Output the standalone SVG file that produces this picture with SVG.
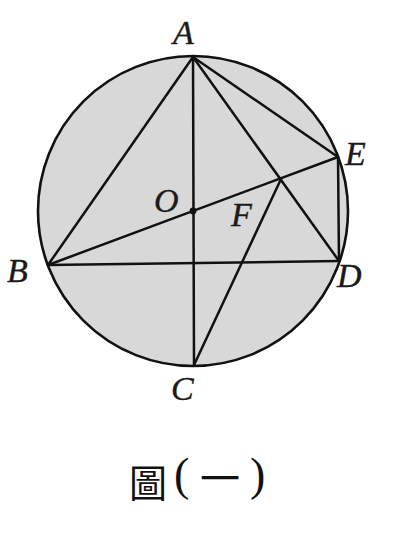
<svg xmlns="http://www.w3.org/2000/svg" width="410" height="549" viewBox="0 0 410 549">
<style>
.ln{stroke:#111;stroke-width:2.5;fill:none;stroke-linecap:round}
.lb{font-family:"Liberation Serif","DejaVu Serif",serif;font-style:italic;font-size:34px;fill:#1a1a1a;stroke:#1a1a1a;stroke-width:0.4}
.cj{font-family:"Noto Sans CJK TC","Noto Sans CJK SC",sans-serif;fill:#111}
.pr{font-family:"Liberation Serif","DejaVu Serif",serif;font-size:46px;fill:#111}
</style>
<rect width="410" height="549" fill="#fff"/>
<g id="circle"><circle cx="193" cy="211" r="155" fill="#d8d8d8" stroke="#111" stroke-width="2.6"/></g>
<g id="connectors">
<line class="ln" x1="193" y1="57" x2="48" y2="265"/>
<line class="ln" x1="193" y1="57" x2="194" y2="365"/>
<line class="ln" x1="193" y1="57" x2="339" y2="261"/>
<line class="ln" x1="193" y1="57" x2="338" y2="157"/>
<line class="ln" x1="48" y1="265" x2="339" y2="261"/>
<line class="ln" x1="48" y1="265" x2="338" y2="157"/>
<line class="ln" x1="338" y1="157" x2="339" y2="261"/>
<line class="ln" x1="194" y1="365" x2="281" y2="179"/>
</g>
<g id="O-dot"><circle cx="193" cy="211" r="3.4" fill="#111"/></g>
<g id="labels">
<text class="lb" x="173" y="44">A</text>
<text class="lb" x="345" y="165">E</text>
<text class="lb" x="154" y="212">O</text>
<text class="lb" x="231" y="226">F</text>
<text class="lb" x="7" y="282">B</text>
<text class="lb" x="337" y="287">D</text>
<text class="lb" x="171" y="400">C</text>
</g>
<g id="caption">
<text class="cj" x="129" y="497" font-size="38">圖</text>
<text class="pr" x="174" y="490">(</text>
<text class="cj" x="200" y="493" font-size="40">一</text>
<text class="pr" x="250" y="490">)</text>
</g>
</svg>
